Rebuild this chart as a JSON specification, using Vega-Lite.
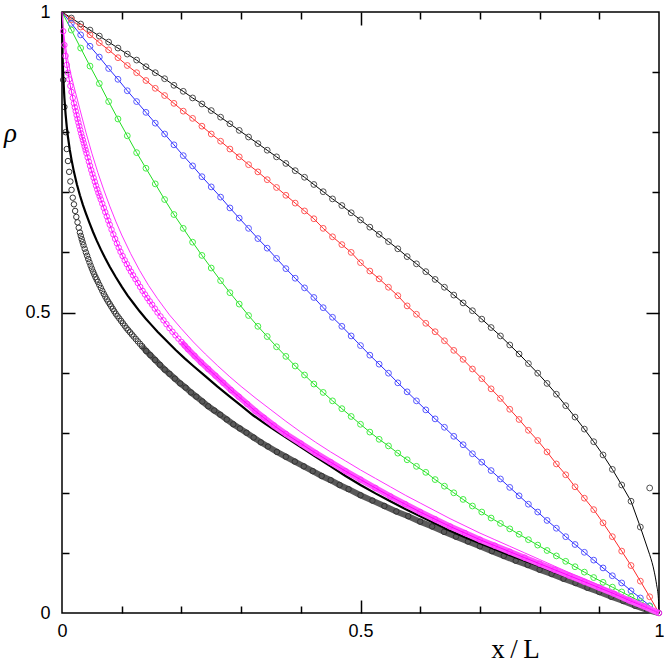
{
"$schema": "https://vega.github.io/schema/vega-lite/v6.json",
"width": 597, "height": 601,
"autosize": "none",
"padding": {"left": 62, "top": 12, "right": 5, "bottom": 51},
"background": "white",
"config": {"view": {"stroke": "#000", "strokeWidth": 1.5}},
"datasets": {
"grid": [
{"x":0,"k":1,"kt":1,"r":1,"b":1,"g":1},
{"x":0.015625,"k":0.990,"kt":0.990,"r":0.987,"b":0.981,"g":0.970},
{"x":0.03125,"k":0.980,"kt":0.980,"r":0.975,"b":0.962,"g":0.940},
{"x":0.046875,"k":0.970,"kt":0.970,"r":0.962,"b":0.943,"g":0.910},
{"x":0.0625,"k":0.960,"kt":0.960,"r":0.949,"b":0.925,"g":0.881},
{"x":0.078125,"k":0.950,"kt":0.950,"r":0.937,"b":0.906,"g":0.851},
{"x":0.09375,"k":0.940,"kt":0.940,"r":0.924,"b":0.888,"g":0.822},
{"x":0.109375,"k":0.930,"kt":0.930,"r":0.911,"b":0.869,"g":0.794},
{"x":0.125,"k":0.920,"kt":0.920,"r":0.899,"b":0.851,"g":0.766},
{"x":0.140625,"k":0.909,"kt":0.909,"r":0.886,"b":0.833,"g":0.740},
{"x":0.15625,"k":0.899,"kt":0.899,"r":0.873,"b":0.815,"g":0.714},
{"x":0.171875,"k":0.889,"kt":0.889,"r":0.861,"b":0.797,"g":0.688},
{"x":0.1875,"k":0.878,"kt":0.878,"r":0.848,"b":0.779,"g":0.663},
{"x":0.203125,"k":0.868,"kt":0.868,"r":0.835,"b":0.761,"g":0.640},
{"x":0.21875,"k":0.857,"kt":0.857,"r":0.823,"b":0.744,"g":0.617},
{"x":0.234375,"k":0.847,"kt":0.847,"r":0.810,"b":0.726,"g":0.595},
{"x":0.25,"k":0.836,"kt":0.836,"r":0.797,"b":0.709,"g":0.574},
{"x":0.265625,"k":0.825,"kt":0.825,"r":0.785,"b":0.692,"g":0.553},
{"x":0.28125,"k":0.814,"kt":0.814,"r":0.772,"b":0.674,"g":0.533},
{"x":0.296875,"k":0.803,"kt":0.803,"r":0.759,"b":0.657,"g":0.514},
{"x":0.3125,"k":0.792,"kt":0.792,"r":0.746,"b":0.640,"g":0.495},
{"x":0.328125,"k":0.781,"kt":0.781,"r":0.734,"b":0.623,"g":0.477},
{"x":0.34375,"k":0.770,"kt":0.770,"r":0.721,"b":0.607,"g":0.460},
{"x":0.359375,"k":0.759,"kt":0.759,"r":0.708,"b":0.590,"g":0.443},
{"x":0.375,"k":0.748,"kt":0.748,"r":0.695,"b":0.573,"g":0.427},
{"x":0.390625,"k":0.736,"kt":0.736,"r":0.682,"b":0.557,"g":0.411},
{"x":0.40625,"k":0.725,"kt":0.725,"r":0.669,"b":0.541,"g":0.396},
{"x":0.421875,"k":0.713,"kt":0.713,"r":0.656,"b":0.525,"g":0.381},
{"x":0.4375,"k":0.701,"kt":0.701,"r":0.640,"b":0.508,"g":0.367},
{"x":0.453125,"k":0.689,"kt":0.689,"r":0.626,"b":0.492,"g":0.353},
{"x":0.46875,"k":0.678,"kt":0.678,"r":0.613,"b":0.477,"g":0.340},
{"x":0.484375,"k":0.666,"kt":0.666,"r":0.600,"b":0.461,"g":0.327},
{"x":0.5,"k":0.654,"kt":0.654,"r":0.583,"b":0.445,"g":0.314},
{"x":0.515625,"k":0.642,"kt":0.642,"r":0.569,"b":0.429,"g":0.301},
{"x":0.53125,"k":0.630,"kt":0.630,"r":0.556,"b":0.414,"g":0.289},
{"x":0.546875,"k":0.618,"kt":0.618,"r":0.542,"b":0.399,"g":0.278},
{"x":0.5625,"k":0.606,"kt":0.606,"r":0.528,"b":0.383,"g":0.266},
{"x":0.578125,"k":0.593,"kt":0.593,"r":0.511,"b":0.368,"g":0.255},
{"x":0.59375,"k":0.581,"kt":0.581,"r":0.497,"b":0.353,"g":0.244},
{"x":0.609375,"k":0.568,"kt":0.568,"r":0.482,"b":0.338,"g":0.234},
{"x":0.625,"k":0.555,"kt":0.555,"r":0.468,"b":0.323,"g":0.222},
{"x":0.640625,"k":0.542,"kt":0.542,"r":0.453,"b":0.309,"g":0.211},
{"x":0.65625,"k":0.529,"kt":0.529,"r":0.437,"b":0.294,"g":0.200},
{"x":0.671875,"k":0.516,"kt":0.516,"r":0.422,"b":0.280,"g":0.189},
{"x":0.6875,"k":0.503,"kt":0.503,"r":0.406,"b":0.265,"g":0.178},
{"x":0.703125,"k":0.489,"kt":0.489,"r":0.390,"b":0.251,"g":0.168},
{"x":0.71875,"k":0.475,"kt":0.475,"r":0.373,"b":0.237,"g":0.158},
{"x":0.734375,"k":0.461,"kt":0.461,"r":0.357,"b":0.223,"g":0.149},
{"x":0.75,"k":0.446,"kt":0.446,"r":0.339,"b":0.209,"g":0.140},
{"x":0.765625,"k":0.431,"kt":0.431,"r":0.322,"b":0.195,"g":0.131},
{"x":0.78125,"k":0.415,"kt":0.415,"r":0.304,"b":0.181,"g":0.122},
{"x":0.796875,"k":0.399,"kt":0.399,"r":0.287,"b":0.168,"g":0.113},
{"x":0.8125,"k":0.382,"kt":0.382,"r":0.268,"b":0.154,"g":0.104},
{"x":0.828125,"k":0.364,"kt":0.364,"r":0.248,"b":0.141,"g":0.095},
{"x":0.84375,"k":0.345,"kt":0.345,"r":0.230,"b":0.127,"g":0.086},
{"x":0.859375,"k":0.326,"kt":0.326,"r":0.210,"b":0.114,"g":0.077},
{"x":0.875,"k":0.306,"kt":0.306,"r":0.191,"b":0.101,"g":0.068},
{"x":0.890625,"k":0.285,"kt":0.285,"r":0.172,"b":0.088,"g":0.059},
{"x":0.90625,"k":0.263,"kt":0.263,"r":0.150,"b":0.075,"g":0.051},
{"x":0.921875,"k":0.239,"kt":0.239,"r":0.127,"b":0.062,"g":0.043},
{"x":0.9375,"k":0.213,"kt":0.213,"r":0.103,"b":0.050,"g":0.035},
{"x":0.953125,"k":0.186,"kt":0.186,"r":0.079,"b":0.037,"g":0.027},
{"x":0.96875,"k":0.143,"kt":0.143,"r":0.053,"b":0.025,"g":0.019},
{"x":0.984375,"k":0.208,"kt":0.097,"r":0.027,"b":0.012,"g":0.011},
{"x":1,"k":0,"kt":null,"r":0,"b":0,"g":0}
],
"dense": [
{"s":"ktail","x":0.984375,"y":0.097},{"s":"ktail","x":0.9922,"y":0.068},{"s":"ktail","x":0.996,"y":0.047},{"s":"ktail","x":0.999,"y":0.024},{"s":"ktail","x":1,"y":0},
{"s":"blk","x":0.002,"y":0.887},{"s":"blk","x":0.004,"y":0.842},{"s":"blk","x":0.006,"y":0.800},{"s":"blk","x":0.008,"y":0.772},{"s":"blk","x":0.010,"y":0.752},{"s":"blk","x":0.012,"y":0.734},{"s":"blk","x":0.014,"y":0.718},{"s":"blk","x":0.016,"y":0.704},{"s":"blk","x":0.018,"y":0.691},{"s":"blk","x":0.020,"y":0.680},{"s":"blk","x":0.022,"y":0.669},{"s":"blk","x":0.024,"y":0.659},{"s":"blk","x":0.026,"y":0.650},{"s":"blk","x":0.028,"y":0.641},{"s":"blk","x":0.030,"y":0.633},{"s":"blk","x":0.0315,"y":0.6275},{"s":"blk","x":0.033,"y":0.622},{"s":"blk","x":0.0345,"y":0.617},{"s":"blk","x":0.036,"y":0.612},{"s":"blk","x":0.038,"y":0.606},{"s":"blk","x":0.040,"y":0.600},{"s":"blk","x":0.042,"y":0.5945},{"s":"blk","x":0.044,"y":0.589},{"s":"blk","x":0.046,"y":0.5835},{"s":"blk","x":0.048,"y":0.578},{"s":"blk","x":0.050,"y":0.573},{"s":"blk","x":0.052,"y":0.568},{"s":"blk","x":0.054,"y":0.5635},{"s":"blk","x":0.056,"y":0.559},{"s":"blk","x":0.058,"y":0.555},{"s":"blk","x":0.060,"y":0.551},{"s":"blk","x":0.0625,"y":0.546},{"s":"blk","x":0.065,"y":0.541},{"s":"blk","x":0.0675,"y":0.536},{"s":"blk","x":0.070,"y":0.531},{"s":"blk","x":0.0725,"y":0.5265},{"s":"blk","x":0.075,"y":0.522},{"s":"blk","x":0.0775,"y":0.518},{"s":"blk","x":0.080,"y":0.514},{"s":"blk","x":0.0825,"y":0.510},{"s":"blk","x":0.085,"y":0.506},{"s":"blk","x":0.0875,"y":0.502},{"s":"blk","x":0.090,"y":0.498},{"s":"blk","x":0.093,"y":0.494},{"s":"blk","x":0.096,"y":0.490},{"s":"blk","x":0.099,"y":0.486},{"s":"blk","x":0.102,"y":0.482},{"s":"blk","x":0.105,"y":0.478},{"s":"blk","x":0.108,"y":0.474},{"s":"blk","x":0.111,"y":0.4705},{"s":"blk","x":0.114,"y":0.467},{"s":"blk","x":0.117,"y":0.4635},{"s":"blk","x":0.120,"y":0.460},{"s":"blk","x":0.1235,"y":0.456},{"s":"blk","x":0.127,"y":0.452},{"s":"blk","x":0.1305,"y":0.448},{"s":"blk","x":0.134,"y":0.444},{"s":"blk","x":0.141,"y":0.436},{"s":"blk","x":0.148,"y":0.429},{"s":"blk","x":0.156,"y":0.421},{"s":"blk","x":0.164,"y":0.413},{"s":"blk","x":0.172,"y":0.405},{"s":"blk","x":0.180,"y":0.398},{"s":"blk","x":0.189,"y":0.390},{"s":"blk","x":0.198,"y":0.382},{"s":"blk","x":0.207,"y":0.375},{"s":"blk","x":0.216,"y":0.367},{"s":"blk","x":0.225,"y":0.360},{"s":"blk","x":0.235,"y":0.352},{"s":"blk","x":0.245,"y":0.344},{"s":"blk","x":0.255,"y":0.337},{"s":"blk","x":0.265,"y":0.330},{"s":"blk","x":0.276,"y":0.322},{"s":"blk","x":0.287,"y":0.314},{"s":"blk","x":0.298,"y":0.307},{"s":"blk","x":0.309,"y":0.300},{"s":"blk","x":0.321,"y":0.292},{"s":"blk","x":0.333,"y":0.284},{"s":"blk","x":0.345,"y":0.277},{"s":"blk","x":0.360,"y":0.268},{"s":"blk","x":0.375,"y":0.260},{"s":"blk","x":0.390,"y":0.252},{"s":"blk","x":0.405,"y":0.244},{"s":"blk","x":0.420,"y":0.236},{"s":"blk","x":0.435,"y":0.228},{"s":"blk","x":0.450,"y":0.221},{"s":"blk","x":0.465,"y":0.213},{"s":"blk","x":0.480,"y":0.206},{"s":"blk","x":0.500,"y":0.196},{"s":"blk","x":0.520,"y":0.187},{"s":"blk","x":0.540,"y":0.178},{"s":"blk","x":0.560,"y":0.169},{"s":"blk","x":0.580,"y":0.161},{"s":"blk","x":0.600,"y":0.152},{"s":"blk","x":0.620,"y":0.144},{"s":"blk","x":0.640,"y":0.135},{"s":"blk","x":0.660,"y":0.127},{"s":"blk","x":0.680,"y":0.119},{"s":"blk","x":0.700,"y":0.111},{"s":"blk","x":0.720,"y":0.103},{"s":"blk","x":0.740,"y":0.095},{"s":"blk","x":0.760,"y":0.087},{"s":"blk","x":0.780,"y":0.080},{"s":"blk","x":0.800,"y":0.072},{"s":"blk","x":0.820,"y":0.065},{"s":"blk","x":0.840,"y":0.057},{"s":"blk","x":0.860,"y":0.050},{"s":"blk","x":0.880,"y":0.042},{"s":"blk","x":0.900,"y":0.035},{"s":"blk","x":0.920,"y":0.027},{"s":"blk","x":0.940,"y":0.020},{"s":"blk","x":0.960,"y":0.012},{"s":"blk","x":0.980,"y":0.005},{"s":"blk","x":1.000,"y":0.000},
{"s":"mag","x":0.002,"y":0.968},{"s":"mag","x":0.004,"y":0.945},{"s":"mag","x":0.006,"y":0.927},{"s":"mag","x":0.008,"y":0.912},{"s":"mag","x":0.010,"y":0.899},{"s":"mag","x":0.012,"y":0.888},{"s":"mag","x":0.014,"y":0.877},{"s":"mag","x":0.016,"y":0.867},{"s":"mag","x":0.018,"y":0.857},{"s":"mag","x":0.020,"y":0.848},{"s":"mag","x":0.0215,"y":0.8415},{"s":"mag","x":0.023,"y":0.835},{"s":"mag","x":0.0245,"y":0.8285},{"s":"mag","x":0.026,"y":0.822},{"s":"mag","x":0.0275,"y":0.816},{"s":"mag","x":0.029,"y":0.810},{"s":"mag","x":0.0305,"y":0.804},{"s":"mag","x":0.032,"y":0.798},{"s":"mag","x":0.0335,"y":0.7925},{"s":"mag","x":0.035,"y":0.787},{"s":"mag","x":0.0365,"y":0.7815},{"s":"mag","x":0.038,"y":0.776},{"s":"mag","x":0.0395,"y":0.7705},{"s":"mag","x":0.041,"y":0.765},{"s":"mag","x":0.043,"y":0.758},{"s":"mag","x":0.045,"y":0.751},{"s":"mag","x":0.047,"y":0.744},{"s":"mag","x":0.049,"y":0.737},{"s":"mag","x":0.051,"y":0.7305},{"s":"mag","x":0.053,"y":0.724},{"s":"mag","x":0.055,"y":0.7175},{"s":"mag","x":0.057,"y":0.711},{"s":"mag","x":0.059,"y":0.705},{"s":"mag","x":0.061,"y":0.699},{"s":"mag","x":0.063,"y":0.6935},{"s":"mag","x":0.065,"y":0.688},{"s":"mag","x":0.0675,"y":0.681},{"s":"mag","x":0.070,"y":0.674},{"s":"mag","x":0.0725,"y":0.667},{"s":"mag","x":0.075,"y":0.660},{"s":"mag","x":0.0775,"y":0.653},{"s":"mag","x":0.080,"y":0.646},{"s":"mag","x":0.083,"y":0.638},{"s":"mag","x":0.086,"y":0.630},{"s":"mag","x":0.089,"y":0.6225},{"s":"mag","x":0.092,"y":0.615},{"s":"mag","x":0.095,"y":0.608},{"s":"mag","x":0.098,"y":0.601},{"s":"mag","x":0.1015,"y":0.594},{"s":"mag","x":0.105,"y":0.587},{"s":"mag","x":0.1085,"y":0.5805},{"s":"mag","x":0.112,"y":0.574},{"s":"mag","x":0.1155,"y":0.568},{"s":"mag","x":0.119,"y":0.562},{"s":"mag","x":0.123,"y":0.5555},{"s":"mag","x":0.127,"y":0.549},{"s":"mag","x":0.131,"y":0.5425},{"s":"mag","x":0.135,"y":0.536},{"s":"mag","x":0.139,"y":0.530},{"s":"mag","x":0.143,"y":0.524},{"s":"mag","x":0.147,"y":0.5185},{"s":"mag","x":0.151,"y":0.513},{"s":"mag","x":0.1555,"y":0.5065},{"s":"mag","x":0.160,"y":0.500},{"s":"mag","x":0.165,"y":0.4935},{"s":"mag","x":0.170,"y":0.487},{"s":"mag","x":0.175,"y":0.4805},{"s":"mag","x":0.180,"y":0.474},{"s":"mag","x":0.185,"y":0.468},{"s":"mag","x":0.190,"y":0.462},{"s":"mag","x":0.195,"y":0.4565},{"s":"mag","x":0.200,"y":0.451},{"s":"mag","x":0.2055,"y":0.445},{"s":"mag","x":0.211,"y":0.439},{"s":"mag","x":0.222,"y":0.428},{"s":"mag","x":0.233,"y":0.417},{"s":"mag","x":0.245,"y":0.406},{"s":"mag","x":0.257,"y":0.395},{"s":"mag","x":0.270,"y":0.383},{"s":"mag","x":0.283,"y":0.371},{"s":"mag","x":0.296,"y":0.360},{"s":"mag","x":0.310,"y":0.348},{"s":"mag","x":0.324,"y":0.336},{"s":"mag","x":0.338,"y":0.325},{"s":"mag","x":0.355,"y":0.312},{"s":"mag","x":0.375,"y":0.298},{"s":"mag","x":0.400,"y":0.282},{"s":"mag","x":0.425,"y":0.266},{"s":"mag","x":0.450,"y":0.251},{"s":"mag","x":0.475,"y":0.236},{"s":"mag","x":0.500,"y":0.222},{"s":"mag","x":0.525,"y":0.208},{"s":"mag","x":0.550,"y":0.194},{"s":"mag","x":0.575,"y":0.181},{"s":"mag","x":0.600,"y":0.168},{"s":"mag","x":0.625,"y":0.156},{"s":"mag","x":0.650,"y":0.144},{"s":"mag","x":0.675,"y":0.133},{"s":"mag","x":0.700,"y":0.122},{"s":"mag","x":0.725,"y":0.112},{"s":"mag","x":0.750,"y":0.102},{"s":"mag","x":0.775,"y":0.092},{"s":"mag","x":0.800,"y":0.082},{"s":"mag","x":0.825,"y":0.072},{"s":"mag","x":0.850,"y":0.062},{"s":"mag","x":0.875,"y":0.052},{"s":"mag","x":0.900,"y":0.042},{"s":"mag","x":0.925,"y":0.032},{"s":"mag","x":0.950,"y":0.021},{"s":"mag","x":0.975,"y":0.011},{"s":"mag","x":1.000,"y":0.000},
{"s":"thick","x":0,"y":1},{"s":"thick","x":0.001,"y":0.925},{"s":"thick","x":0.002,"y":0.895},{"s":"thick","x":0.004,"y":0.857},{"s":"thick","x":0.006,"y":0.830},{"s":"thick","x":0.008,"y":0.809},{"s":"thick","x":0.010,"y":0.792},{"s":"thick","x":0.013,"y":0.771},{"s":"thick","x":0.016,"y":0.754},{"s":"thick","x":0.020,"y":0.734},{"s":"thick","x":0.025,"y":0.713},{"s":"thick","x":0.030,"y":0.695},{"s":"thick","x":0.035,"y":0.679},{"s":"thick","x":0.040,"y":0.665},{"s":"thick","x":0.046,"y":0.649},{"s":"thick","x":0.052,"y":0.634},{"s":"thick","x":0.058,"y":0.620},{"s":"thick","x":0.065,"y":0.605},{"s":"thick","x":0.072,"y":0.591},{"s":"thick","x":0.080,"y":0.576},{"s":"thick","x":0.090,"y":0.559},{"s":"thick","x":0.100,"y":0.543},{"s":"thick","x":0.110,"y":0.528},{"s":"thick","x":0.120,"y":0.515},{"s":"thick","x":0.130,"y":0.502},{"s":"thick","x":0.140,"y":0.490},{"s":"thick","x":0.150,"y":0.479},{"s":"thick","x":0.160,"y":0.468},{"s":"thick","x":0.175,"y":0.453},{"s":"thick","x":0.190,"y":0.438},{"s":"thick","x":0.205,"y":0.424},{"s":"thick","x":0.220,"y":0.411},{"s":"thick","x":0.240,"y":0.394},{"s":"thick","x":0.260,"y":0.377},{"s":"thick","x":0.280,"y":0.361},{"s":"thick","x":0.300,"y":0.345},{"s":"thick","x":0.320,"y":0.329},{"s":"thick","x":0.340,"y":0.315},{"s":"thick","x":0.360,"y":0.302},{"s":"thick","x":0.380,"y":0.289},{"s":"thick","x":0.400,"y":0.276},{"s":"thick","x":0.425,"y":0.260},{"s":"thick","x":0.450,"y":0.244},{"s":"thick","x":0.475,"y":0.228},{"s":"thick","x":0.500,"y":0.213},{"s":"thick","x":0.525,"y":0.199},{"s":"thick","x":0.550,"y":0.186},{"s":"thick","x":0.575,"y":0.173},{"s":"thick","x":0.600,"y":0.161},{"s":"thick","x":0.625,"y":0.149},{"s":"thick","x":0.650,"y":0.137},{"s":"thick","x":0.675,"y":0.126},{"s":"thick","x":0.700,"y":0.116},{"s":"thick","x":0.725,"y":0.106},{"s":"thick","x":0.750,"y":0.096},{"s":"thick","x":0.775,"y":0.087},{"s":"thick","x":0.800,"y":0.078},{"s":"thick","x":0.825,"y":0.068},{"s":"thick","x":0.850,"y":0.059},{"s":"thick","x":0.875,"y":0.049},{"s":"thick","x":0.900,"y":0.040},{"s":"thick","x":0.925,"y":0.030},{"s":"thick","x":0.950,"y":0.020},{"s":"thick","x":0.975,"y":0.010},{"s":"thick","x":1.000,"y":0.000},
{"s":"magth","x":0,"y":1},{"s":"magth","x":0.002,"y":0.972},{"s":"magth","x":0.005,"y":0.948},{"s":"magth","x":0.010,"y":0.919},{"s":"magth","x":0.015,"y":0.896},{"s":"magth","x":0.020,"y":0.876},{"s":"magth","x":0.030,"y":0.838},{"s":"magth","x":0.040,"y":0.800},{"s":"magth","x":0.050,"y":0.765},{"s":"magth","x":0.060,"y":0.733},{"s":"magth","x":0.070,"y":0.704},{"s":"magth","x":0.080,"y":0.677},{"s":"magth","x":0.090,"y":0.652},{"s":"magth","x":0.100,"y":0.629},{"s":"magth","x":0.115,"y":0.598},{"s":"magth","x":0.130,"y":0.570},{"s":"magth","x":0.145,"y":0.545},{"s":"magth","x":0.160,"y":0.523},{"s":"magth","x":0.180,"y":0.496},{"s":"magth","x":0.200,"y":0.473},{"s":"magth","x":0.220,"y":0.451},{"s":"magth","x":0.240,"y":0.431},{"s":"magth","x":0.260,"y":0.412},{"s":"magth","x":0.280,"y":0.394},{"s":"magth","x":0.300,"y":0.377},{"s":"magth","x":0.325,"y":0.357},{"s":"magth","x":0.350,"y":0.338},{"s":"magth","x":0.375,"y":0.319},{"s":"magth","x":0.400,"y":0.301},{"s":"magth","x":0.425,"y":0.284},{"s":"magth","x":0.450,"y":0.268},{"s":"magth","x":0.475,"y":0.253},{"s":"magth","x":0.500,"y":0.238},{"s":"magth","x":0.525,"y":0.224},{"s":"magth","x":0.550,"y":0.210},{"s":"magth","x":0.575,"y":0.196},{"s":"magth","x":0.600,"y":0.183},{"s":"magth","x":0.625,"y":0.170},{"s":"magth","x":0.650,"y":0.157},{"s":"magth","x":0.675,"y":0.145},{"s":"magth","x":0.700,"y":0.133},{"s":"magth","x":0.725,"y":0.122},{"s":"magth","x":0.750,"y":0.111},{"s":"magth","x":0.775,"y":0.100},{"s":"magth","x":0.800,"y":0.089},{"s":"magth","x":0.825,"y":0.078},{"s":"magth","x":0.850,"y":0.067},{"s":"magth","x":0.875,"y":0.057},{"s":"magth","x":0.900,"y":0.046},{"s":"magth","x":0.925,"y":0.035},{"s":"magth","x":0.950,"y":0.023},{"s":"magth","x":0.975,"y":0.012},{"s":"magth","x":1.000,"y":0.000}
]
},
"encoding": {
"x": {"field": "x", "type": "quantitative", "scale": {"domain": [0, 1], "nice": false, "zero": false}, "axis": null},
"y": {"field": "y", "type": "quantitative", "scale": {"domain": [0, 1], "nice": false, "zero": false}, "axis": null}
},
"layer": [
{"data": {"name": "grid"}, "transform": [{"fold": ["kt", "r", "b", "g"], "as": ["s", "y"]}],
 "mark": {"type": "line", "strokeWidth": 1},
 "encoding": {"color": {"field": "s", "type": "nominal", "scale": {"domain": ["kt", "r", "b", "g"], "range": ["#000000", "#ff2a2a", "#2a2aff", "#22dd22"]}, "legend": null}}},
{"data": {"name": "dense"}, "transform": [{"filter": "datum.s === 'ktail'"}],
 "mark": {"type": "line", "stroke": "#000000", "strokeWidth": 1, "interpolate": "monotone"}, "encoding": {}},
{"data": {"name": "grid"}, "transform": [{"fold": ["k", "r", "b", "g"], "as": ["s", "y"]}, {"filter": "datum.x > 0 && datum.x < 1"}],
 "mark": {"type": "point", "shape": "circle", "filled": false, "size": 34, "strokeWidth": 1, "opacity": 1},
 "encoding": {"color": {"field": "s", "type": "nominal", "scale": {"domain": ["k", "r", "b", "g"], "range": ["#505050", "#ff5a5a", "#5a5aff", "#44ee44"]}, "legend": null}}},
{"data": {"name": "dense"}, "transform": [{"filter": "datum.s === 'blk' && datum.x >= 0.134"}],
 "mark": {"type": "line", "stroke": "#5a5a5a", "strokeWidth": 6}, "encoding": {}},
{"data": {"name": "dense"}, "transform": [{"filter": "datum.s === 'blk'"}],
 "mark": {"type": "point", "shape": "circle", "filled": false, "size": 30, "strokeWidth": 1, "opacity": 1, "color": "#333333"}, "encoding": {}},
{"data": {"name": "dense"}, "transform": [{"filter": "datum.s === 'thick'"}],
 "mark": {"type": "line", "stroke": "#000000", "strokeWidth": 2.2}, "encoding": {}},
{"data": {"name": "dense"}, "transform": [{"filter": "datum.s === 'mag' && datum.x >= 0.2"}],
 "mark": {"type": "line", "stroke": "#ff55ff", "strokeWidth": 6}, "encoding": {}},
{"data": {"name": "dense"}, "transform": [{"filter": "datum.s === 'mag'"}],
 "mark": {"type": "point", "shape": "circle", "filled": false, "size": 30, "strokeWidth": 1, "opacity": 1, "color": "#ff33ff"}, "encoding": {}},
{"data": {"name": "dense"}, "transform": [{"filter": "datum.s === 'mag'"}],
 "mark": {"type": "line", "stroke": "#ff00ff", "strokeWidth": 1}, "encoding": {}},
{"data": {"name": "dense"}, "transform": [{"filter": "datum.s === 'magth'"}],
 "mark": {"type": "line", "stroke": "#ff33ff", "strokeWidth": 1}, "encoding": {}},
{"data": {"name": "dense"}, "mark": {"type": "point", "opacity": 0},
 "encoding": {
  "x": {"field": "x", "type": "quantitative", "scale": {"domain": [0, 1], "nice": false, "zero": false},
   "axis": {"orient": "bottom", "values": [0, 0.5, 1], "format": "~g", "ticks": false, "domain": false, "grid": false, "labelFlush": false, "labelPadding": 9, "labelFont": "Liberation Sans", "labelFontSize": 18, "labelColor": "#000",
    "title": "x\u2009/\u2009L", "titleFont": "Liberation Serif", "titleFontSize": 27, "titleFontWeight": "normal", "titleColor": "#000", "titleX": 453, "titleY": 44, "titleBaseline": "alphabetic", "titleAlign": "center"}},
  "y": {"field": "y", "type": "quantitative", "scale": {"domain": [0, 1], "nice": false, "zero": false},
   "axis": {"orient": "left", "values": [0, 0.5, 1], "format": "~g", "ticks": false, "domain": false, "grid": false, "labelFlush": false, "labelPadding": 12, "labelFont": "Liberation Sans", "labelFontSize": 18, "labelColor": "#000",
    "title": "ρ", "titleFont": "Liberation Serif", "titleFontStyle": "italic", "titleFontSize": 27, "titleFontWeight": "normal", "titleColor": "#000", "titleAngle": 0, "titleX": -52, "titleY": 129, "titleBaseline": "alphabetic", "titleAlign": "center"}}}},
{"data": {"name": "dense"}, "mark": {"type": "point", "opacity": 0},
 "encoding": {
  "x": {"field": "x", "type": "quantitative", "scale": {"domain": [0, 1], "nice": false, "zero": false},
   "axis": {"orient": "bottom", "values": [0.1, 0.2, 0.3, 0.4, 0.6, 0.7, 0.8, 0.9], "tickSize": -7, "tickWidth": 1.5, "tickColor": "#000", "labels": false, "domain": false, "grid": false, "title": null}},
  "y": {"field": "y", "type": "quantitative", "scale": {"domain": [0, 1], "nice": false, "zero": false},
   "axis": {"orient": "left", "values": [0.1, 0.2, 0.3, 0.4, 0.6, 0.7, 0.8, 0.9], "tickSize": -7, "tickWidth": 1.5, "tickColor": "#000", "labels": false, "domain": false, "grid": false, "title": null}}}},
{"data": {"name": "dense"}, "mark": {"type": "point", "opacity": 0},
 "encoding": {
  "x": {"field": "x", "type": "quantitative", "scale": {"domain": [0, 1], "nice": false, "zero": false},
   "axis": {"orient": "bottom", "values": [0.5], "tickSize": -13, "tickWidth": 1.5, "tickColor": "#000", "labels": false, "domain": false, "grid": false, "title": null}},
  "y": {"field": "y", "type": "quantitative", "scale": {"domain": [0, 1], "nice": false, "zero": false},
   "axis": {"orient": "left", "values": [0.5], "tickSize": -13, "tickWidth": 1.5, "tickColor": "#000", "labels": false, "domain": false, "grid": false, "title": null}}}},
{"data": {"name": "dense"}, "mark": {"type": "point", "opacity": 0},
 "encoding": {
  "x": {"field": "x", "type": "quantitative", "scale": {"domain": [0, 1], "nice": false, "zero": false},
   "axis": {"orient": "top", "values": [0.1, 0.2, 0.3, 0.4, 0.6, 0.7, 0.8, 0.9], "tickSize": -7, "tickWidth": 1.5, "tickColor": "#000", "labels": false, "domain": false, "grid": false, "title": null}},
  "y": {"field": "y", "type": "quantitative", "scale": {"domain": [0, 1], "nice": false, "zero": false},
   "axis": {"orient": "right", "values": [0.1, 0.2, 0.3, 0.4, 0.6, 0.7, 0.8, 0.9], "tickSize": -7, "tickWidth": 1.5, "tickColor": "#000", "labels": false, "domain": false, "grid": false, "title": null}}}},
{"data": {"name": "dense"}, "mark": {"type": "point", "opacity": 0},
 "encoding": {
  "x": {"field": "x", "type": "quantitative", "scale": {"domain": [0, 1], "nice": false, "zero": false},
   "axis": {"orient": "top", "values": [0.5], "tickSize": -13, "tickWidth": 1.5, "tickColor": "#000", "labels": false, "domain": false, "grid": false, "title": null}},
  "y": {"field": "y", "type": "quantitative", "scale": {"domain": [0, 1], "nice": false, "zero": false},
   "axis": {"orient": "right", "values": [0.5], "tickSize": -13, "tickWidth": 1.5, "tickColor": "#000", "labels": false, "domain": false, "grid": false, "title": null}}}}
],
"resolve": {"scale": {"color": "independent"}, "axis": {"x": "independent", "y": "independent"}}
}
